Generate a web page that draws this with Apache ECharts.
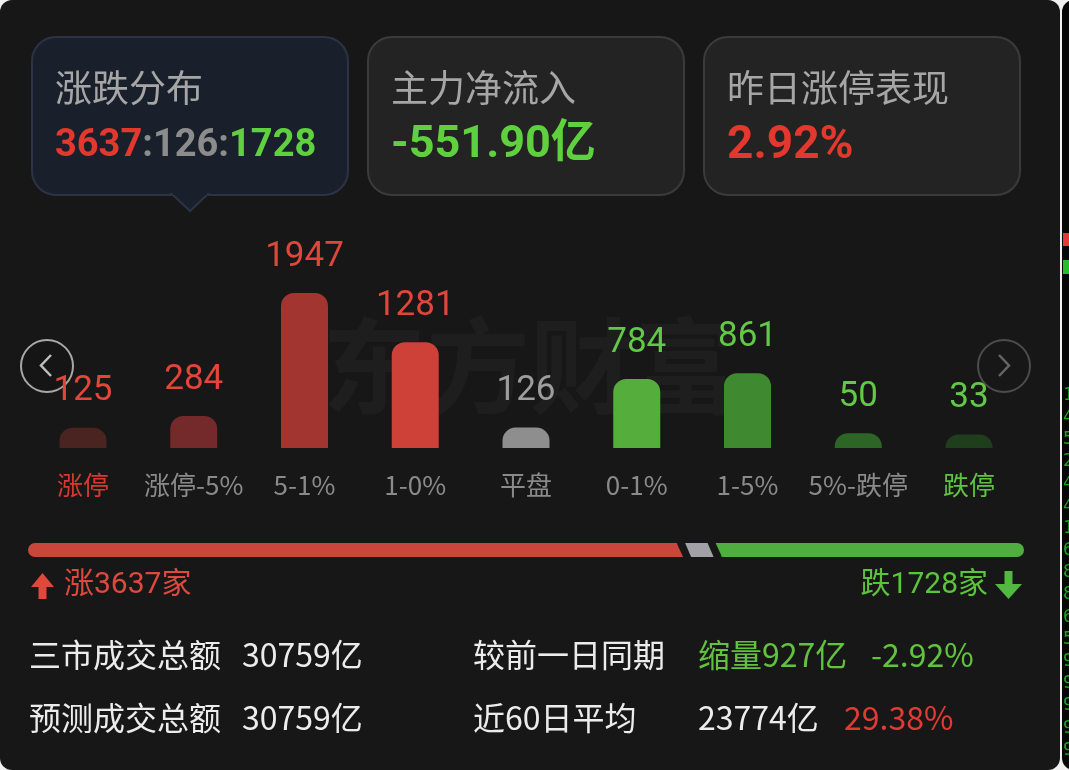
<!DOCTYPE html>
<html><head><meta charset="utf-8">
<style>html,body{margin:0;padding:0;background:#f0f0f0;}#c{width:1069px;height:770px;}</style>
<script src="https://cdn.jsdelivr.net/npm/echarts@6/dist/echarts.min.js"></script>
</head><body><div id="c"></div>
<script>
// ---- data ----
const categories = ['涨停', '涨停-5%', '5-1%', '1-0%', '平盘', '0-1%', '1-5%', '5%-跌停', '跌停'];
const counts = [125, 284, 1947, 1281, 126, 784, 861, 50, 33];
const cardTitles = ['涨跌分布', '主力净流入', '昨日涨停表现'];
const netInflow = '-551.90亿';
const yesterdayLimitUp = '2.92%';
const turnoverLabels = ['三市成交总额', '预测成交总额'];
const turnoverValues = ['30759亿', '30759亿'];
const compareLabels = ['较前一日同期', '近60日平均'];
const compareValues = ['缩量927亿', '23774亿'];
const comparePct = ['-2.92%', '29.38%'];
const sideDigits = ['1', '4', '5', '2', '4', '4', '1', '6', '8', '8', '6', '5', '9', '9', '9', '9', '9'];

// ---- derived ----
const upCount = counts.slice(0, 4).reduce((a, b) => a + b, 0);
const flatCount = counts[4];
const downCount = counts.slice(5).reduce((a, b) => a + b, 0);

// ---- styles ----
const RED = '#e2463a', GREEN = '#62c946';
const barColors = ['#4a2421', '#74292a', '#a33530', '#cd4139', '#8e8e8e', '#55ae3b', '#3f8a30', '#2d6526', '#1f3f1c'];
const valueColors = [RED, RED, RED, RED, '#9d9d9d', GREEN, GREEN, GREEN, GREEN];
const catColors = ['#d8392f', '#8a8a8a', '#8a8a8a', '#8a8a8a', '#8a8a8a', '#8a8a8a', '#8a8a8a', '#8a8a8a', '#5ec43f'];
const CJK = "'Noto Sans CJK SC', sans-serif";
const NUM = "Roboto, 'Noto Sans CJK SC', sans-serif";
const AXIS_MIN = -150; // app draws bars on an offset baseline so small counts stay visible

const chart = echarts.init(document.getElementById('c'), null, {renderer: 'canvas'});

const g = [];
// panel + side strip
g.push({type: 'rect', z: 0, shape: {x: 0, y: 0, width: 1060, height: 770, r: 12}, style: {fill: '#171717'}});
g.push({type: 'rect', z: 0, shape: {x: 1062, y: 0, width: 12, height: 770, r: [12, 0, 0, 12]}, style: {fill: '#060606'}});
g.push({type: 'rect', z: 1, shape: {x: 1063, y: 233, width: 8, height: 13}, style: {fill: '#e8393a'}});
g.push({type: 'rect', z: 1, shape: {x: 1063, y: 260, width: 8, height: 14}, style: {fill: '#22c02a'}});
sideDigits.forEach((d, i) => {
  g.push({type: 'text', z: 1, style: {text: d, x: 1063, y: 395 + i * 22.2, verticalAlign: 'middle', fill: '#17a81e', font: "18px 'DejaVu Sans Mono'"}});
});

// cards
const cardX = [32, 368, 704];
cardX.forEach((x, i) => {
  const first = i === 0;
  g.push({type: 'rect', z: 1, shape: {x: x, y: 37, width: 316, height: 158, r: 24},
    style: {fill: first ? '#1a202b' : '#232323', stroke: first ? '#2b3345' : '#3b3b3b', lineWidth: 2}});
  g.push({type: 'text', z: 2, style: {text: cardTitles[i], x: x + 23, y: 88, verticalAlign: 'middle',
    fill: '#a6a6a6', font: '37px ' + CJK}});
});
// pointer under first card
g.push({type: 'polygon', z: 1, shape: {points: [[172, 194], [190, 211], [208, 194]]},
  style: {fill: '#1a202b', stroke: '#2b3345', lineWidth: 2}});
g.push({type: 'rect', z: 1, shape: {x: 173, y: 192, width: 34, height: 3}, style: {fill: '#1a202b'}});

g.push({type: 'text', z: 2, style: {
  text: '{r|' + upCount + '}{g|:' + flatCount + ':}{d|' + downCount + '}',
  x: 55, y: 146, verticalAlign: 'middle', font: 'bold 38px ' + NUM,
  rich: {r: {fill: '#e3382e', font: 'bold 38px ' + NUM}, g: {fill: '#8c8c8c', font: 'bold 38px ' + NUM}, d: {fill: '#5fd13e', font: 'bold 38px ' + NUM}}
}});
g.push({type: 'text', z: 2, style: {text: netInflow, x: 391, y: 146, verticalAlign: 'middle', fill: '#5fd13e', font: 'bold 45px ' + NUM}});
g.push({type: 'text', z: 2, style: {text: yesterdayLimitUp, x: 727, y: 146, verticalAlign: 'middle', fill: '#e3382e', font: 'bold 46px ' + NUM}});

// watermark
g.push({type: 'text', z: 1, style: {text: '东方财富', x: 530, y: 366, align: 'center', verticalAlign: 'middle',
  fill: 'rgba(255,255,255,0.03)', font: 'bold 104px ' + CJK}});

// nav circles
g.push({type: 'circle', z: 3, shape: {cx: 47, cy: 366, r: 26}, style: {fill: 'rgba(20,20,20,0.6)', stroke: '#a8a8a8', lineWidth: 2}});
g.push({type: 'polyline', z: 3, shape: {points: [[51, 355], [41, 365.5], [51, 376]]}, style: {stroke: '#bdbdbd', lineWidth: 2.5, fill: null}});
g.push({type: 'circle', z: 3, shape: {cx: 1004, cy: 366, r: 26}, style: {fill: null, stroke: '#4c4c4c', lineWidth: 2}});
g.push({type: 'polyline', z: 3, shape: {points: [[999, 355], [1009, 365.5], [999, 376]]}, style: {stroke: '#656565', lineWidth: 2.5, fill: null}});

// proportion bar
(function () {
  const x0 = 28, x1 = 1024, y = 543, h = 14, gap = 8, s = 6;
  const total = upCount + flatCount + downCount;
  const W = (x1 - x0) - 2 * gap;
  const rEnd = x0 + W * upCount / total;
  const gL = rEnd + gap, gR = gL + W * flatCount / total;
  const grL = gR + gap;
  g.push({type: 'rect', z: 2, shape: {x: x0, y: y, width: rEnd - x0, height: h, r: [7, 0, 0, 7]}, style: {fill: '#c9463d'}});
  g.push({type: 'polygon', z: 2, shape: {points: [[rEnd - 0.5, y], [rEnd - 0.5, y + h], [rEnd + s, y + h]]}, style: {fill: '#c9463d'}});
  g.push({type: 'polygon', z: 2, shape: {points: [[gL, y], [gR, y], [gR + s, y + h], [gL + s, y + h]]}, style: {fill: '#a1a1a7'}});
  g.push({type: 'polygon', z: 2, shape: {points: [[grL, y], [grL + s + 0.5, y], [grL + s + 0.5, y + h]]}, style: {fill: '#4fae3f'}});
  g.push({type: 'rect', z: 2, shape: {x: grL + s, y: y, width: x1 - grL - s, height: h, r: [0, 7, 7, 0]}, style: {fill: '#4fae3f'}});
})();

// up / down counts
g.push({type: 'polygon', z: 2, shape: {points: [[31, 587], [42.5, 573], [54, 587]]}, style: {fill: '#e0483c'}});
g.push({type: 'rect', z: 2, shape: {x: 38.5, y: 586, width: 8, height: 13}, style: {fill: '#e0483c'}});
g.push({type: 'text', z: 2, style: {text: '涨' + upCount + '家', x: 64, y: 585, verticalAlign: 'middle', fill: '#dc4a3e', font: '30px ' + NUM}});
g.push({type: 'polygon', z: 2, shape: {points: [[995, 584], [1008.5, 599], [1022, 584]]}, style: {fill: '#52b840'}});
g.push({type: 'rect', z: 2, shape: {x: 1004.5, y: 571, width: 8, height: 14}, style: {fill: '#52b840'}});
g.push({type: 'text', z: 2, style: {text: '跌' + downCount + '家', x: 988, y: 585, align: 'right', verticalAlign: 'middle', fill: '#5cc43a', font: '30px ' + NUM}});

// turnover rows
[655, 718].forEach((y, i) => {
  const f = '32px ' + CJK;
  g.push({type: 'text', z: 2, style: {text: turnoverLabels[i], x: 29, y: y, verticalAlign: 'middle', fill: '#ececec', font: f}});
  g.push({type: 'text', z: 2, style: {text: turnoverValues[i], x: 242, y: y, verticalAlign: 'middle', fill: '#ececec', font: f}});
  g.push({type: 'text', z: 2, style: {text: compareLabels[i], x: 473, y: y, verticalAlign: 'middle', fill: '#ececec', font: f}});
  g.push({type: 'text', z: 2, style: {text: compareValues[i], x: 698, y: y, verticalAlign: 'middle', fill: i === 0 ? '#62c23f' : '#ececec', font: f}});
  g.push({type: 'text', z: 2, style: {text: comparePct[i], x: i === 0 ? 871 : 844, y: y, verticalAlign: 'middle', fill: i === 0 ? '#62c23f' : '#e03a33', font: f}});
});

chart.setOption({
  backgroundColor: '#f0f0f0',
  animation: false,
  graphic: {elements: g},
  grid: {left: 27.6, right: 44.6, top: 289, bottom: 322},
  xAxis: {
    type: 'category', data: categories,
    axisLine: {show: false}, axisTick: {show: false}, splitLine: {show: false},
    axisLabel: {margin: 24, fontSize: 26, fontFamily: CJK, interval: 0,
      color: (val) => catColors[categories.indexOf(val)]}
  },
  yAxis: {type: 'value', min: AXIS_MIN, max: 2000, show: false, splitLine: {show: false}},
  series: [{
    type: 'custom', z: 5,
    data: counts.map((v, i) => [i, v]),
    renderItem: (params, api) => {
      const i = api.value(0), v = api.value(1);
      const top = api.coord([i, v]);
      const base = api.coord([i, AXIS_MIN]);
      const w = 47;
      return {type: 'group', children: [
        {type: 'rect', shape: {x: top[0] - w / 2, y: top[1], width: w, height: base[1] - top[1], r: [13, 13, 0, 0]},
          style: {fill: barColors[i]}},
        {type: 'text', style: {text: String(v), x: top[0], y: top[1] - 36, align: 'center', verticalAlign: 'middle',
          fill: valueColors[i], font: '35px ' + NUM}}
      ]};
    }
  }]
});
</script></body></html>
